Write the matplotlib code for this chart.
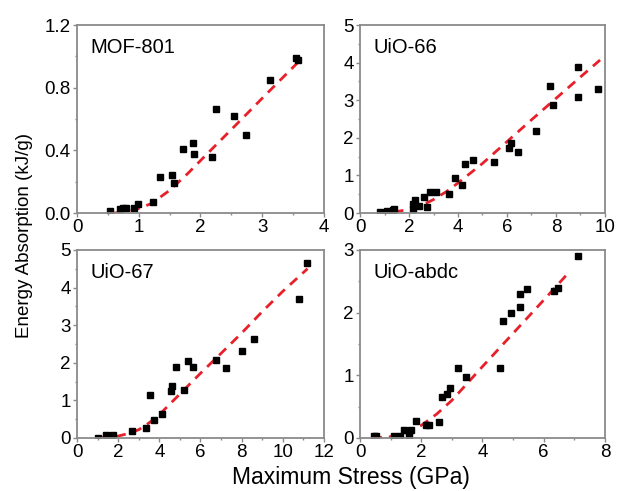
import numpy as np
import matplotlib
matplotlib.use("Agg")
import matplotlib.pyplot as plt
from matplotlib.ticker import MultipleLocator, AutoMinorLocator

plt.rcParams['font.family'] = ['Liberation Sans', 'DejaVu Sans']

# MOF-801
mof801_x = [0.53, 0.69, 0.75, 0.79, 0.93, 0.98, 1.23, 1.35, 1.54, 1.57, 1.72, 1.88, 1.90,
            2.19, 2.25, 2.54, 2.73, 3.13, 3.55, 3.58]
mof801_y = [0.015, 0.025, 0.03, 0.03, 0.03, 0.06, 0.07, 0.23, 0.24, 0.19, 0.41, 0.45, 0.38,
            0.355, 0.665, 0.62, 0.50, 0.85, 0.99, 0.98]
mof801_fit_x = [0.6, 0.9, 1.2, 1.5, 1.8, 2.1, 2.4, 2.7, 3.0, 3.3, 3.6]
mof801_fit_y = [0.0, 0.015, 0.06, 0.145, 0.255, 0.375, 0.494, 0.613, 0.733, 0.852, 0.97]

# UiO-66
uio66_x = [0.82, 1.09, 1.36, 1.39, 2.15, 2.18, 2.24, 2.42, 2.61, 2.75, 2.86, 3.12, 3.63, 3.89,
           4.18, 4.27, 4.60, 5.47, 6.10, 6.16, 6.46, 7.20, 7.76, 7.87, 8.88, 8.91, 9.70]
uio66_y = [0.035, 0.05, 0.07, 0.10, 0.12, 0.23, 0.36, 0.18, 0.43, 0.17, 0.57, 0.57, 0.50, 0.92,
           0.76, 1.30, 1.42, 1.35, 1.73, 1.86, 1.62, 2.18, 3.37, 2.88, 3.08, 3.88, 3.30]
uio66_fit_x = [0.7, 1.5, 2.0, 2.5, 3.0, 3.5, 4.0, 5.0, 6.0, 7.0, 8.0, 9.0, 9.8]
uio66_fit_y = [0.0, 0.04, 0.1, 0.2, 0.36, 0.56, 0.8, 1.32, 1.9, 2.48, 3.05, 3.62, 4.07]

# UiO-67
uio67_x = [1.02, 1.39, 1.59, 1.75, 2.69, 3.37, 3.56, 3.72, 4.15, 4.58, 4.63, 4.81, 5.18, 5.41,
           5.62, 6.75, 7.22, 8.00, 8.58, 10.80, 11.19]
uio67_y = [0.01, 0.08, 0.04, 0.08, 0.18, 0.26, 1.15, 0.49, 0.64, 1.26, 1.38, 1.90, 1.27, 2.04,
           1.88, 2.08, 1.87, 2.32, 2.63, 3.69, 4.65]
uio67_fit_x = [1.1, 2.0, 2.5, 3.0, 3.5, 4.0, 5.0, 6.0, 7.0, 8.0, 9.0, 10.0, 11.2]
uio67_fit_y = [0.0, 0.05, 0.12, 0.22, 0.4, 0.62, 1.17, 1.72, 2.25, 2.79, 3.36, 3.9, 4.5]

# UiO-abdc
abdc_x = [0.47, 0.52, 1.11, 1.31, 1.44, 1.61, 1.68, 1.83, 2.15, 2.24, 2.58, 2.69, 2.84, 2.93,
          3.21, 3.47, 4.56, 4.67, 4.94, 5.21, 5.24, 5.46, 6.35, 6.46, 7.12]
abdc_y = [0.03, 0.03, 0.027, 0.03, 0.13, 0.03, 0.12, 0.27, 0.21, 0.21, 0.26, 0.66, 0.70, 0.79,
          1.11, 0.98, 1.11, 1.87, 2.00, 2.09, 2.29, 2.38, 2.34, 2.39, 2.91]
abdc_fit_x = [0.4, 1.0, 1.5, 2.0, 2.5, 3.0, 3.5, 4.0, 5.0, 6.0, 6.8]
abdc_fit_y = [0.0, 0.02, 0.08, 0.2, 0.38, 0.6, 0.87, 1.14, 1.67, 2.2, 2.63]

panels = [
    ("MOF-801", mof801_x, mof801_y, mof801_fit_x, mof801_fit_y, (0, 4, 1), (0, 1.2, 0.4)),
    ("UiO-66", uio66_x, uio66_y, uio66_fit_x, uio66_fit_y, (0, 10, 2), (0, 5, 1)),
    ("UiO-67", uio67_x, uio67_y, uio67_fit_x, uio67_fit_y, (0, 12, 2), (0, 5, 1)),
    ("UiO-abdc", abdc_x, abdc_y, abdc_fit_x, abdc_fit_y, (0, 8, 2), (0, 3, 1)),
]

boxes = [
    [0.1248, 0.566, 0.4003, 0.383],
    [0.5835, 0.566, 0.397, 0.383],
    [0.1248, 0.108, 0.4003, 0.383],
    [0.5835, 0.108, 0.397, 0.383],
]

fig = plt.figure(figsize=(6.17, 4.91), dpi=100)
gray = "#8a8a8a"

for (name, x, y, fx, fy, xr, yr), box in zip(panels, boxes):
    ax = fig.add_axes(box)
    ax.plot(fx, fy, "--", color="#e8202a", lw=2, dashes=(3.5, 2.5))
    ax.plot(x, y, "s", color="black", ms=4, mec="black")
    ax.set_xlim(xr[0], xr[1])
    ax.set_ylim(yr[0], yr[1])
    ax.xaxis.set_major_locator(MultipleLocator(xr[2]))
    ax.yaxis.set_major_locator(MultipleLocator(yr[2]))
    ax.xaxis.set_minor_locator(AutoMinorLocator(2))
    ax.yaxis.set_minor_locator(AutoMinorLocator(2))
    if name == "MOF-801":
        ax.yaxis.set_major_formatter(plt.FormatStrFormatter("%.1f"))
    for s in ax.spines.values():
        s.set_color(gray)
        s.set_linewidth(1.3)
    ax.tick_params(which="major", direction="out", length=3, width=1, color=gray,
                   labelsize=13.5, pad=1.5, top=False, right=False)
    ax.tick_params(which="minor", direction="out", length=1.5, width=1, color=gray,
                   top=False, right=False)
    ax.text(0.055, 0.88, name, transform=ax.transAxes, fontsize=14.5, va="center", ha="left")

fig.text(0.039, 0.52, "Energy Absorption (kJ/g)", rotation=90, fontsize=13.5,
         ha="center", va="center")
fig.text(0.568, 0.028, "Maximum Stress (GPa)", fontsize=16.5, ha="center", va="center")

fig.savefig("out.png", dpi=100, facecolor="white")
